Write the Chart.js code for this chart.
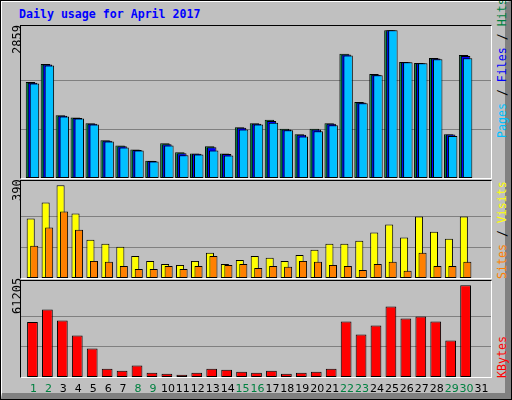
<!DOCTYPE html>
<html><head><meta charset="utf-8">
<script src="https://cdn.jsdelivr.net/npm/chart.js@4/dist/chart.umd.min.js"></script>
<style>
body{margin:0;background:#fff}
#wrap{position:absolute;left:0;top:0;width:510px;height:398px;border:1px solid #000;background:#c0c0c0;overflow:hidden}
#wrap:before{content:"";position:absolute;left:0;top:0;right:0;bottom:0;border-left:1px solid #fff;border-top:1px solid #fff;border-right:6px solid #808080;border-bottom:6px solid #808080;}
.panel{position:absolute;left:19px;width:470px;border-top:1px solid #000;border-left:1px solid #000;border-right:1px solid #fff;border-bottom:1px solid #fff}
canvas{position:absolute}
.t{position:absolute;font-family:"DejaVu Sans Mono",monospace;white-space:nowrap}
.rot{transform-origin:0 0;transform:rotate(-90deg)}
</style></head><body>
<div id="wrap">
<div class="t" style="left:18px;top:6px;font-size:11.6px;font-weight:bold;color:#0000ff">Daily usage for April 2017</div>
<div class="panel" style="top:24px;height:152px"></div>
<div class="panel" style="top:179px;height:97px"></div>
<div class="panel" style="top:279px;height:96px"></div>
<canvas id="c1" style="left:20px;top:25px"></canvas>
<canvas id="c2" style="left:20px;top:180px"></canvas>
<canvas id="c3" style="left:20px;top:280px"></canvas>
<div class="t rot" style="left:9px;top:53px;font-size:12px;color:#000">2859</div>
<div class="t rot" style="left:9px;top:200px;font-size:12px;color:#000">390</div>
<div class="t rot" style="left:9px;top:313px;font-size:12px;color:#000">61205</div>
<div class="t rot" style="left:494px;top:137px;font-size:11.6px"><span style="color:#00c0ff">Pages</span><span style="color:#000"> / </span><span style="color:#0000ff">Files</span><span style="color:#000"> / </span><span style="color:#008040">Hits</span></div>
<div class="t rot" style="left:494px;top:278px;font-size:11.6px"><span style="color:#ff8000">Sites</span><span style="color:#000"> / </span><span style="color:#ffff00">Visits</span></div>
<div class="t rot" style="left:494px;top:377px;font-size:11.6px;color:#ff0000">KBytes</div>
</div>
<script>
const days = ["1","2","3","4","5","6","7","8","9","10","11","12","13","14","15","16","17","18","19","20","21","22","23","24","25","26","27","28","29","30","31"];
const weekend = ["1","2","8","9","15","16","22","23","29","30"];
const hits  = [1857,2206,1216,1171,1061,731,628,550,336,673,498,472,615,472,983,1061,1126,951,848,951,1061,2407,1469,2012,2859,2245,2226,2323,848,2381,0];
const files = [1845,2195,1205,1160,1050,722,615,541,330,655,480,468,595,466,972,1050,1105,940,835,940,1052,2390,1460,2000,2859,2240,2220,2312,840,2360,0];
const pages = [1831,2180,1190,1150,1035,705,590,530,317,628,440,453,530,436,940,1035,1070,925,803,905,1020,2370,1447,1990,2859,2241,2219,2297,815,2320,0];
const visits = [250,318,390,271,161,144,131,93,72,59,55,72,106,59,76,93,85,72,97,119,144,144,157,191,225,170,259,195,165,259,0];
const sites  = [136,212,280,203,72,68,51,38,38,51,38,51,93,55,59,42,51,47,72,68,55,51,34,59,68,30,106,51,51,68,0];
const kbytes = [36638,45127,37755,27702,18989,5585,4245,7596,2904,2234,1564,2904,5585,4915,3574,2904,4245,2234,2904,3574,5585,37084,28372,34404,47137,39095,40435,37084,24351,61205,0];
const yTop = [2859,390,61205];

const forwardDraw = {id:'fwd', beforeDatasetsDraw(chart){
  const a=chart.chartArea, ctx=chart.ctx;
  ctx.save();ctx.strokeStyle='#808080';ctx.lineWidth=1;
  const y=chart.scales.y, top=chart.options.plugins.fwd.top;
  [top/3, top*2/3].forEach(v=>{const p=Math.round(y.getPixelForValue(v))+0.5;ctx.beginPath();ctx.moveTo(0,p);ctx.lineTo(chart.width,p);ctx.stroke();});
  ctx.restore();
  chart.getSortedVisibleDatasetMetas().slice().sort((m,n)=>m.index-n.index).forEach(m=>m.controller.draw());
  return false;
}};
const xLabels = {id:'xl', afterDraw(chart){
  if(!chart.options.plugins.xl.on) return;
  const ctx=chart.ctx, x=chart.scales.x;
  ctx.save();ctx.font='11px "DejaVu Sans"';ctx.textAlign='center';ctx.textBaseline='middle';
  days.forEach((d,i)=>{ctx.fillStyle=weekend.includes(d)?'#008040':'#000';ctx.fillText(d,x.getPixelForValue(i)+1,108);});
  ctx.restore();
}};
function make(id,w,h,padB,datasets,top,scaleH,cat,bar,xl){
  const c=document.getElementById(id);
  c.width=w;c.height=h;c.style.width=w+'px';c.style.height=h+'px';
  new Chart(c,{type:'bar',data:{labels:days,datasets:datasets.map(d=>Object.assign({borderColor:'#000',borderWidth:1,borderSkipped:false,categoryPercentage:cat,barPercentage:bar},d))},
    options:{responsive:false,animation:false,devicePixelRatio:1,layout:{padding:{left:4,right:3,top:0,bottom:padB}},
      plugins:{legend:{display:false},tooltip:{enabled:false},fwd:{top:top},xl:{on:xl}},
      scales:{x:{display:false,offset:true},y:{display:false,min:0,max:top*scaleH}}},
    plugins:[forwardDraw,xLabels]});
}
make('c1',470,152,0,[{data:hits,backgroundColor:'#008040'},{data:files,backgroundColor:'#0000ff'},{data:pages,backgroundColor:'#00c0ff'}],yTop[0],152/147.7,0.4,4.75,false);
make('c2',470,97,0,[{data:visits,backgroundColor:'#ffff00'},{data:sites,backgroundColor:'#ff8000'}],yTop[1],97/92.7,0.47,2.3,false);
make('c3',470,118,22,[{data:kbytes,backgroundColor:'#ff0000'}],yTop[2],96/91.7,0.72,1,true);
</script></body></html>
